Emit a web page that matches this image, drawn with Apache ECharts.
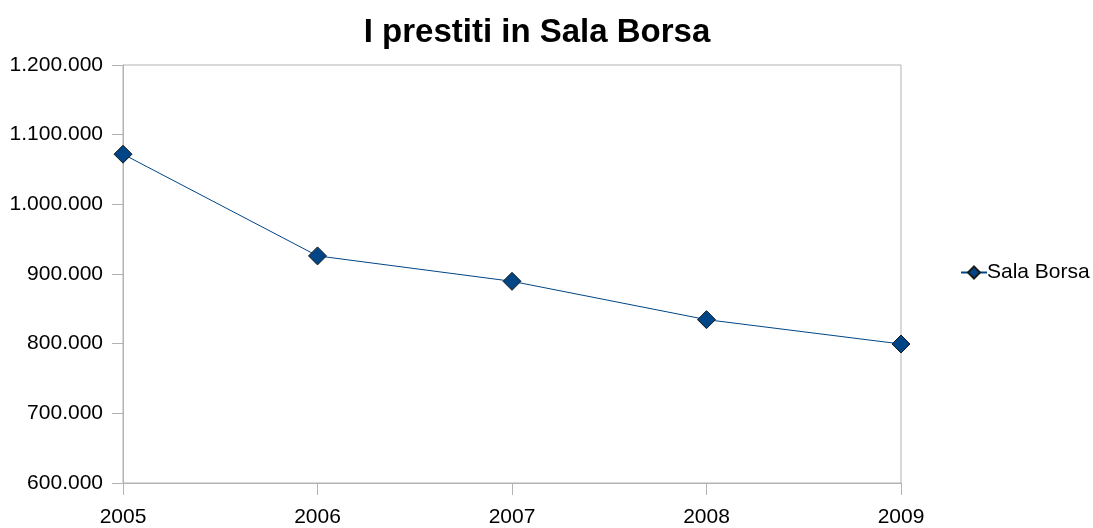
<!DOCTYPE html>
<html>
<head>
<meta charset="utf-8">
<script src="https://cdn.jsdelivr.net/npm/echarts@6/dist/echarts.min.js"></script>
<style>
  html, body { margin: 0; padding: 0; background: #fff; }
  #chart { width: 1093px; height: 528px; }
</style>
</head>
<body>
<div id="chart"></div>
<script>
const years = ['2005', '2006', '2007', '2008', '2009']
const salaBorsa = [1072000, 926000, 889500, 834500, 799500]
const seriesName = 'Sala Borsa'

const axisGray = '#b3b3b3'
const textFont = 'Liberation Sans, Arial, sans-serif'

function dotted(value) {
  return String(value).replace(/\B(?=(\d{3})+(?!\d))/g, '.')
}

const chart = echarts.init(document.getElementById('chart'))
chart.setOption({
  animation: false,
  title: {
    text: 'I prestiti in Sala Borsa',
    left: 532,
    textAlign: 'center',
    top: 11,
    textStyle: { fontFamily: textFont, fontSize: 33, fontWeight: 'bold', color: '#000' }
  },
  legend: {
    left: 955,
    top: 257,
    orient: 'vertical',
    itemWidth: 26,
    itemHeight: 15,
    itemGap: 4,
    textStyle: { fontFamily: textFont, fontSize: 21, color: '#000', padding: [2, 0, 0, -5] },
    data: [seriesName]
  },
  grid: { left: 123, right: 192, top: 65, bottom: 45, show: true, borderColor: axisGray, borderWidth: 1 },
  xAxis: {
    type: 'category',
    data: years,
    boundaryGap: false,
    axisLine: { lineStyle: { color: axisGray, width: 1 } },
    axisTick: { show: true, length: 12, lineStyle: { color: axisGray } },
    axisLabel: { fontFamily: textFont, fontSize: 21, color: '#000', margin: 24 },
    splitLine: { show: false }
  },
  yAxis: {
    type: 'value',
    min: 600000,
    max: 1200000,
    interval: 100000,
    axisLine: { show: true, lineStyle: { color: axisGray, width: 1 } },
    axisTick: { show: true, length: 11, lineStyle: { color: axisGray } },
    axisLabel: { fontFamily: textFont, fontSize: 21, color: '#000', margin: 20, formatter: dotted },
    splitLine: { show: false }
  },
  series: [
    {
      name: seriesName,
      type: 'line',
      data: salaBorsa,
      symbol: 'diamond',
      symbolSize: 18,
      lineStyle: { color: '#004586', width: 1 },
      itemStyle: { color: '#004586', borderColor: '#1a1a1a', borderWidth: 1 }
    }
  ]
})
</script>
</body>
</html>
